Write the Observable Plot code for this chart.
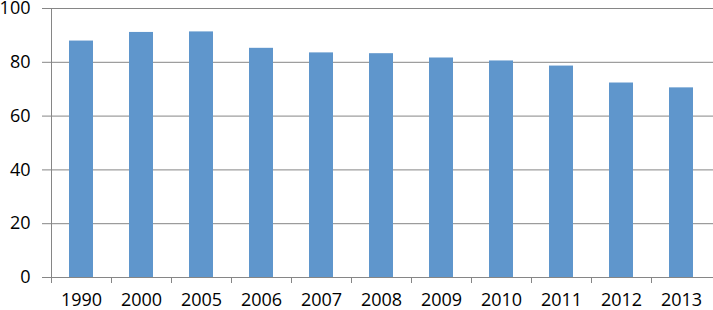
<!DOCTYPE html>
<html>
<head>
<meta charset="utf-8">
<script src="https://cdn.jsdelivr.net/npm/d3@7"></script>
<script src="https://cdn.jsdelivr.net/npm/@observablehq/plot@0.6"></script>
<style>
  html, body { margin: 0; padding: 0; background: #fff; }
  #chart svg { display: block; }
</style>
</head>
<body>
<div id="chart"></div>
<script>
const years = ["1990", "2000", "2005", "2006", "2007", "2008", "2009", "2010", "2011", "2012", "2013"];
const values = [87.9, 91.1, 91.3, 85.2, 83.5, 83.2, 81.6, 80.5, 78.6, 72.3, 70.5];
const yTicks = [0, 20, 40, 60, 80, 100];

const data = years.map((y, i) => ({year: y, value: values[i]}));

const W = 713, H = 310;
const gridColor = "#868686";
const barColor = "#5F96CC";
const font = "'Open Sans', sans-serif";
const fs = "18px";

function build(step) {
  return Plot.plot({
    width: W,
    height: H,
    marginLeft: 49,
    marginRight: 0,
    marginTop: 8,
    marginBottom: 33,
    style: {fontFamily: font, fontSize: fs, color: "#000", background: "#fff"},
    x: {domain: years, paddingInner: 0.6, paddingOuter: 0.3, label: null},
    y: {domain: [0, 100], label: null},
    marks: [
      Plot.gridY(yTicks, {stroke: gridColor, strokeOpacity: 1, strokeWidth: 1}),
      Plot.barY(data, {x: "year", y: "value", fill: barColor}),
      Plot.ruleX([years[0]], {dx: -step / 2, stroke: gridColor}),
      Plot.ruleY([0], {stroke: gridColor}),
      Plot.axisY(yTicks, {tickSize: 7, tickPadding: 12, stroke: gridColor, fill: "#000", fontSize: fs, label: null}),
      Plot.axisX({tickSize: 6, text: null, dx: -step / 2, stroke: gridColor, label: null}),
      Plot.axisX({tickSize: 0, tickPadding: 16, fill: "#000", fontSize: fs, label: null})
    ]
  });
}

const first = build(0);
const step = first.scale("x").step;
const chart = build(step);
document.getElementById("chart").appendChild(chart);
</script>
</body>
</html>
